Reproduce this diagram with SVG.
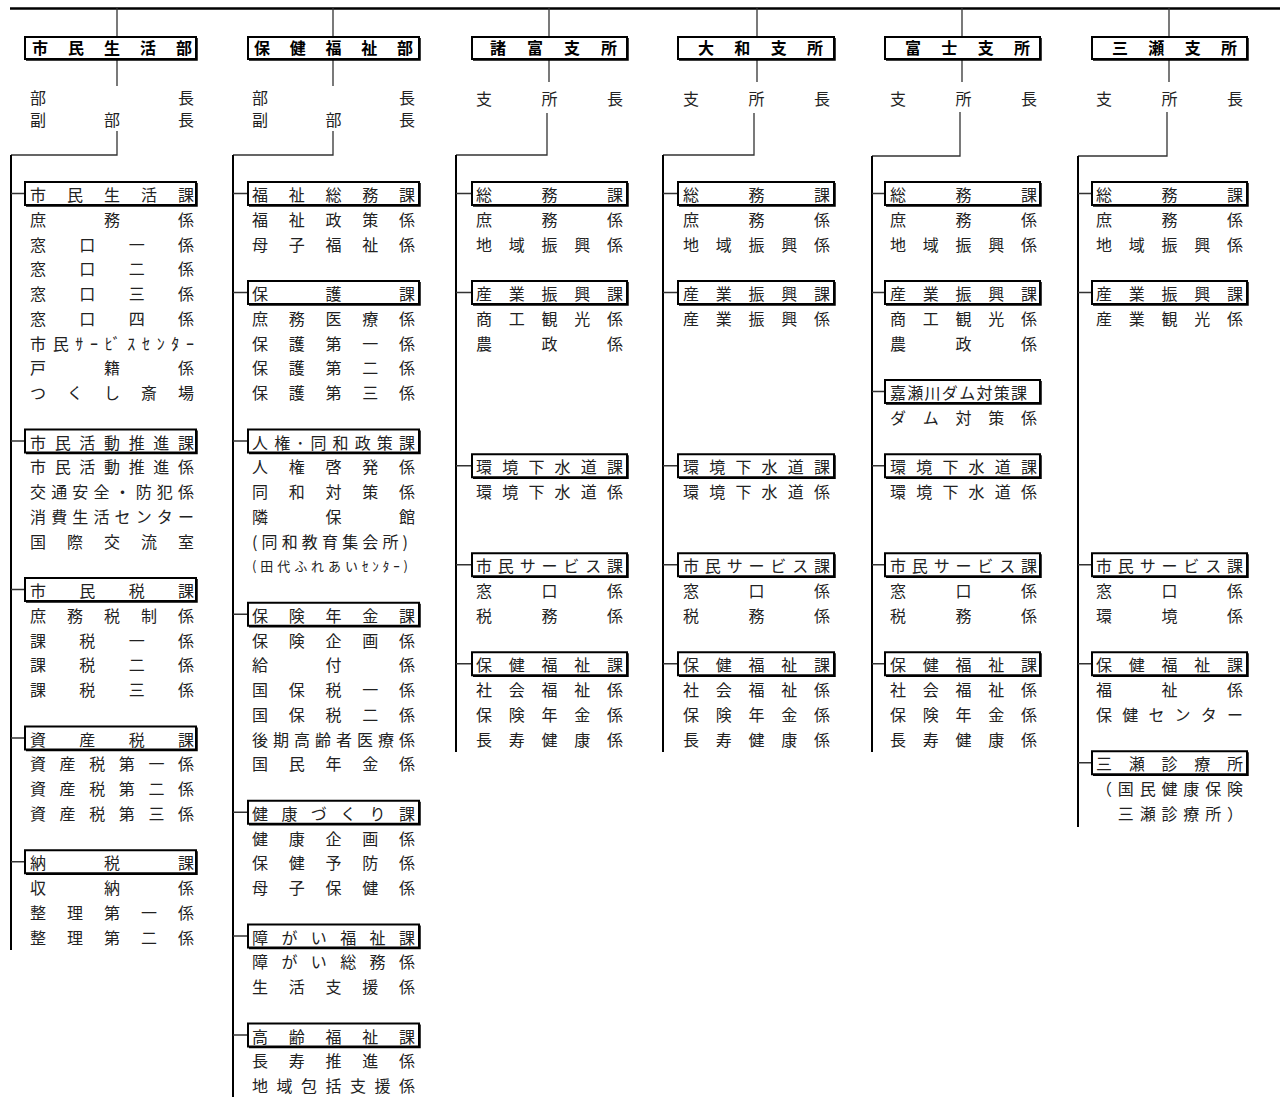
<svg xmlns="http://www.w3.org/2000/svg" width="1280" height="1097" viewBox="0 0 1280 1097">
<style>
text{font-family:"Noto Sans CJK JP","Noto Sans CJK SC",sans-serif;font-size:16px;fill:#222}
.d{font-weight:bold;fill:#000}
.s{font-size:13px}
.bx{fill:#fff;stroke:#000;stroke-width:2}
.sh{fill:none;stroke:#000;stroke-width:1.5}
.tr{fill:none;stroke:#000;stroke-width:2}
.th{fill:none;stroke:#333;stroke-width:1.3}
.top{fill:none;stroke:#000;stroke-width:2.5}
</style>
<rect width="1280" height="1097" fill="#fff"/>
<g id="connectors">
<line class="top" x1="10" y1="8.5" x2="1280" y2="8.5"/>
<path class="th" d="M117 8V37M333 8V37M549 8V37M757 8V37M962 8V37M1169 8V37"/>
<path class="th" d="M117 60V86M333 60V86M549 60V82M757 60V82M962 60V82M1169 60V82"/>
<path class="th" d="M117 131V155H11M333 131V155H233M547 113V155H456M754 113V155H663M960 112V156H872M1167 112V156H1078"/>
<path class="tr" d="M11 155V950M233 155V1097M456 155V752M663 155V752M872 156V752M1078 156V827"/>
<path class="th" d="M11 193.5H25M11 441H25M11 589.5H25M11 738H25M11 861.75H25"/>
<path class="th" d="M233 193.5H248M233 292.5H248M233 441H248M233 614.25H248M233 812.25H248M233 936H248M233 1035H248"/>
<path class="th" d="M456 193.5H472M456 292.5H472M456 465.75H472M456 564.75H472M456 663.75H472"/>
<path class="th" d="M663 193.5H678M663 292.5H678M663 465.75H678M663 564.75H678M663 663.75H678"/>
<path class="th" d="M872 193.5H885M872 292.5H885M872 391.5H885M872 465.75H885M872 564.75H885M872 663.75H885"/>
<path class="th" d="M1078 193.5H1092M1078 292.5H1092M1078 564.75H1092M1078 663.75H1092M1078 762.75H1092"/>
</g>

<g id="dept-shimin">
<rect class="bx" x="25" y="37" width="171" height="22"/><path class="sh" d="M197 38V60H26"/>
<text class="d" x="32" y="54" textLength="160" lengthAdjust="spacing">市民生活部</text>
<text x="30" y="104" textLength="164" lengthAdjust="spacing">部長</text>
<text x="30" y="126" textLength="164" lengthAdjust="spacing">副部長</text>
</g>
<g id="dept-hoken">
<rect class="bx" x="248" y="37" width="171" height="22"/><path class="sh" d="M420 38V60H249"/>
<text class="d" x="254" y="54" textLength="159" lengthAdjust="spacing">保健福祉部</text>
<text x="252" y="104" textLength="163" lengthAdjust="spacing">部長</text>
<text x="252" y="126" textLength="163" lengthAdjust="spacing">副部長</text>
</g>
<g id="dept-morodomi">
<rect class="bx" x="472" y="37" width="155" height="22"/><path class="sh" d="M628 38V60H473"/>
<text class="d" x="490" y="54" textLength="127" lengthAdjust="spacing">諸富支所</text>
<text x="476" y="105" textLength="147" lengthAdjust="spacing">支所長</text>
</g>
<g id="dept-yamato">
<rect class="bx" x="678" y="37" width="156" height="22"/><path class="sh" d="M835 38V60H679"/>
<text class="d" x="698" y="54" textLength="125" lengthAdjust="spacing">大和支所</text>
<text x="683" y="105" textLength="147" lengthAdjust="spacing">支所長</text>
</g>
<g id="dept-fuji">
<rect class="bx" x="885" y="37" width="155" height="22"/><path class="sh" d="M1041 38V60H886"/>
<text class="d" x="905" y="54" textLength="125" lengthAdjust="spacing">富士支所</text>
<text x="890" y="105" textLength="147" lengthAdjust="spacing">支所長</text>
</g>
<g id="dept-mitsuse">
<rect class="bx" x="1092" y="37" width="155" height="22"/><path class="sh" d="M1248 38V60H1093"/>
<text class="d" x="1112" y="54" textLength="125" lengthAdjust="spacing">三瀬支所</text>
<text x="1096" y="105" textLength="147" lengthAdjust="spacing">支所長</text>
</g>

<!-- Column 1 -->
<g id="c1-shiminseikatsu">
<rect class="bx" x="25" y="182" width="171" height="23"/><path class="sh" d="M197 183V206H26"/>
<text x="30" y="201" textLength="164" lengthAdjust="spacing">市民生活課</text>
<text x="30" y="225.75" textLength="164" lengthAdjust="spacing">庶務係</text>
<text x="30" y="250.5" textLength="164" lengthAdjust="spacing">窓口一係</text>
<text x="30" y="275.25" textLength="164" lengthAdjust="spacing">窓口二係</text>
<text x="30" y="300" textLength="164" lengthAdjust="spacing">窓口三係</text>
<text x="30" y="324.75" textLength="164" lengthAdjust="spacing">窓口四係</text>
<text x="30" y="349.5" textLength="164" lengthAdjust="spacing">市民ｻｰﾋﾞｽｾﾝﾀｰ</text>
<text x="30" y="374.25" textLength="164" lengthAdjust="spacing">戸籍係</text>
<text x="30" y="399" textLength="164" lengthAdjust="spacing">つくし斎場</text>
</g>
<g id="c1-katsudo">
<rect class="bx" x="25" y="429.5" width="171" height="23"/><path class="sh" d="M197 430.5V453.5H26"/>
<text x="30" y="448.5" textLength="164" lengthAdjust="spacing">市民活動推進課</text>
<text x="30" y="473.25" textLength="164" lengthAdjust="spacing">市民活動推進係</text>
<text x="30" y="498" textLength="164" lengthAdjust="spacing">交通安全・防犯係</text>
<text x="30" y="522.75" textLength="164" lengthAdjust="spacing">消費生活センター</text>
<text x="30" y="547.5" textLength="164" lengthAdjust="spacing">国際交流室</text>
</g>
<g id="c1-shiminzei">
<rect class="bx" x="25" y="578" width="171" height="23"/><path class="sh" d="M197 579V602H26"/>
<text x="30" y="597" textLength="164" lengthAdjust="spacing">市民税課</text>
<text x="30" y="621.75" textLength="164" lengthAdjust="spacing">庶務税制係</text>
<text x="30" y="646.5" textLength="164" lengthAdjust="spacing">課税一係</text>
<text x="30" y="671.25" textLength="164" lengthAdjust="spacing">課税二係</text>
<text x="30" y="696" textLength="164" lengthAdjust="spacing">課税三係</text>
</g>
<g id="c1-shisanzei">
<rect class="bx" x="25" y="726.5" width="171" height="23"/><path class="sh" d="M197 727.5V750.5H26"/>
<text x="30" y="745.5" textLength="164" lengthAdjust="spacing">資産税課</text>
<text x="30" y="770.25" textLength="164" lengthAdjust="spacing">資産税第一係</text>
<text x="30" y="795" textLength="164" lengthAdjust="spacing">資産税第二係</text>
<text x="30" y="819.75" textLength="164" lengthAdjust="spacing">資産税第三係</text>
</g>
<g id="c1-nozei">
<rect class="bx" x="25" y="850.25" width="171" height="23"/><path class="sh" d="M197 851.25V874.25H26"/>
<text x="30" y="869.25" textLength="164" lengthAdjust="spacing">納税課</text>
<text x="30" y="894" textLength="164" lengthAdjust="spacing">収納係</text>
<text x="30" y="918.75" textLength="164" lengthAdjust="spacing">整理第一係</text>
<text x="30" y="943.5" textLength="164" lengthAdjust="spacing">整理第二係</text>
</g>

<!-- Column 2 -->
<g id="c2-fukushisomu">
<rect class="bx" x="248" y="182" width="171" height="23"/><path class="sh" d="M420 183V206H249"/>
<text x="252" y="201" textLength="163" lengthAdjust="spacing">福祉総務課</text>
<text x="252" y="225.75" textLength="163" lengthAdjust="spacing">福祉政策係</text>
<text x="252" y="250.5" textLength="163" lengthAdjust="spacing">母子福祉係</text>
</g>
<g id="c2-hogo">
<rect class="bx" x="248" y="281" width="171" height="23"/><path class="sh" d="M420 282V305H249"/>
<text x="252" y="300" textLength="163" lengthAdjust="spacing">保護課</text>
<text x="252" y="324.75" textLength="163" lengthAdjust="spacing">庶務医療係</text>
<text x="252" y="349.5" textLength="163" lengthAdjust="spacing">保護第一係</text>
<text x="252" y="374.25" textLength="163" lengthAdjust="spacing">保護第二係</text>
<text x="252" y="399" textLength="163" lengthAdjust="spacing">保護第三係</text>
</g>
<g id="c2-jinken">
<rect class="bx" x="248" y="429.5" width="171" height="23"/><path class="sh" d="M420 430.5V453.5H249"/>
<text x="252" y="448.5" textLength="163" lengthAdjust="spacing">人権･同和政策課</text>
<text x="252" y="473.25" textLength="163" lengthAdjust="spacing">人権啓発係</text>
<text x="252" y="498" textLength="163" lengthAdjust="spacing">同和対策係</text>
<text x="252" y="522.75" textLength="163" lengthAdjust="spacing">隣保館</text>
<text x="252" y="547.5" textLength="156" lengthAdjust="spacing">(同和教育集会所)</text>
<text class="s" x="252" y="571" textLength="156" lengthAdjust="spacing">(田代ふれあいｾﾝﾀｰ)</text>
</g>
<g id="c2-hokennenkin">
<rect class="bx" x="248" y="602.75" width="171" height="23"/><path class="sh" d="M420 603.75V626.75H249"/>
<text x="252" y="621.75" textLength="163" lengthAdjust="spacing">保険年金課</text>
<text x="252" y="646.5" textLength="163" lengthAdjust="spacing">保険企画係</text>
<text x="252" y="671.25" textLength="163" lengthAdjust="spacing">給付係</text>
<text x="252" y="696" textLength="163" lengthAdjust="spacing">国保税一係</text>
<text x="252" y="720.75" textLength="163" lengthAdjust="spacing">国保税二係</text>
<text x="252" y="745.5" textLength="163" lengthAdjust="spacing">後期高齢者医療係</text>
<text x="252" y="770.25" textLength="163" lengthAdjust="spacing">国民年金係</text>
</g>
<g id="c2-kenko">
<rect class="bx" x="248" y="800.75" width="171" height="23"/><path class="sh" d="M420 801.75V824.75H249"/>
<text x="252" y="819.75" textLength="163" lengthAdjust="spacing">健康づくり課</text>
<text x="252" y="844.5" textLength="163" lengthAdjust="spacing">健康企画係</text>
<text x="252" y="869.25" textLength="163" lengthAdjust="spacing">保健予防係</text>
<text x="252" y="894" textLength="163" lengthAdjust="spacing">母子保健係</text>
</g>
<g id="c2-shogai">
<rect class="bx" x="248" y="924.5" width="171" height="23"/><path class="sh" d="M420 925.5V948.5H249"/>
<text x="252" y="943.5" textLength="163" lengthAdjust="spacing">障がい福祉課</text>
<text x="252" y="968.25" textLength="163" lengthAdjust="spacing">障がい総務係</text>
<text x="252" y="993" textLength="163" lengthAdjust="spacing">生活支援係</text>
</g>
<g id="c2-korei">
<rect class="bx" x="248" y="1023.5" width="171" height="23"/><path class="sh" d="M420 1024.5V1047.5H249"/>
<text x="252" y="1042.5" textLength="163" lengthAdjust="spacing">高齢福祉課</text>
<text x="252" y="1067.25" textLength="163" lengthAdjust="spacing">長寿推進係</text>
<text x="252" y="1092" textLength="163" lengthAdjust="spacing">地域包括支援係</text>
</g>

<!-- Column 3 -->
<g id="c3-somu">
<rect class="bx" x="472" y="182" width="155" height="23"/><path class="sh" d="M628 183V206H473"/>
<text x="476" y="201" textLength="147" lengthAdjust="spacing">総務課</text>
<text x="476" y="225.75" textLength="147" lengthAdjust="spacing">庶務係</text>
<text x="476" y="250.5" textLength="147" lengthAdjust="spacing">地域振興係</text>
</g>
<g id="c3-sangyo">
<rect class="bx" x="472" y="281" width="155" height="23"/><path class="sh" d="M628 282V305H473"/>
<text x="476" y="300" textLength="147" lengthAdjust="spacing">産業振興課</text>
<text x="476" y="324.75" textLength="147" lengthAdjust="spacing">商工観光係</text>
<text x="476" y="349.5" textLength="147" lengthAdjust="spacing">農政係</text>
</g>
<g id="c3-kankyo">
<rect class="bx" x="472" y="454.25" width="155" height="23"/><path class="sh" d="M628 455.25V478.25H473"/>
<text x="476" y="473.25" textLength="147" lengthAdjust="spacing">環境下水道課</text>
<text x="476" y="498" textLength="147" lengthAdjust="spacing">環境下水道係</text>
</g>
<g id="c3-service">
<rect class="bx" x="472" y="553.25" width="155" height="23"/><path class="sh" d="M628 554.25V577.25H473"/>
<text x="476" y="572.25" textLength="147" lengthAdjust="spacing">市民サービス課</text>
<text x="476" y="597" textLength="147" lengthAdjust="spacing">窓口係</text>
<text x="476" y="621.75" textLength="147" lengthAdjust="spacing">税務係</text>
</g>
<g id="c3-hoken">
<rect class="bx" x="472" y="652.25" width="155" height="23"/><path class="sh" d="M628 653.25V676.25H473"/>
<text x="476" y="671.25" textLength="147" lengthAdjust="spacing">保健福祉課</text>
<text x="476" y="696" textLength="147" lengthAdjust="spacing">社会福祉係</text>
<text x="476" y="720.75" textLength="147" lengthAdjust="spacing">保険年金係</text>
<text x="476" y="745.5" textLength="147" lengthAdjust="spacing">長寿健康係</text>
</g>

<!-- Column 4 -->
<g id="c4-somu">
<rect class="bx" x="678" y="182" width="156" height="23"/><path class="sh" d="M835 183V206H679"/>
<text x="683" y="201" textLength="147" lengthAdjust="spacing">総務課</text>
<text x="683" y="225.75" textLength="147" lengthAdjust="spacing">庶務係</text>
<text x="683" y="250.5" textLength="147" lengthAdjust="spacing">地域振興係</text>
</g>
<g id="c4-sangyo">
<rect class="bx" x="678" y="281" width="156" height="23"/><path class="sh" d="M835 282V305H679"/>
<text x="683" y="300" textLength="147" lengthAdjust="spacing">産業振興課</text>
<text x="683" y="324.75" textLength="147" lengthAdjust="spacing">産業振興係</text>
</g>
<g id="c4-kankyo">
<rect class="bx" x="678" y="454.25" width="156" height="23"/><path class="sh" d="M835 455.25V478.25H679"/>
<text x="683" y="473.25" textLength="147" lengthAdjust="spacing">環境下水道課</text>
<text x="683" y="498" textLength="147" lengthAdjust="spacing">環境下水道係</text>
</g>
<g id="c4-service">
<rect class="bx" x="678" y="553.25" width="156" height="23"/><path class="sh" d="M835 554.25V577.25H679"/>
<text x="683" y="572.25" textLength="147" lengthAdjust="spacing">市民サービス課</text>
<text x="683" y="597" textLength="147" lengthAdjust="spacing">窓口係</text>
<text x="683" y="621.75" textLength="147" lengthAdjust="spacing">税務係</text>
</g>
<g id="c4-hoken">
<rect class="bx" x="678" y="652.25" width="156" height="23"/><path class="sh" d="M835 653.25V676.25H679"/>
<text x="683" y="671.25" textLength="147" lengthAdjust="spacing">保健福祉課</text>
<text x="683" y="696" textLength="147" lengthAdjust="spacing">社会福祉係</text>
<text x="683" y="720.75" textLength="147" lengthAdjust="spacing">保険年金係</text>
<text x="683" y="745.5" textLength="147" lengthAdjust="spacing">長寿健康係</text>
</g>

<!-- Column 5 -->
<g id="c5-somu">
<rect class="bx" x="885" y="182" width="155" height="23"/><path class="sh" d="M1041 183V206H886"/>
<text x="890" y="201" textLength="147" lengthAdjust="spacing">総務課</text>
<text x="890" y="225.75" textLength="147" lengthAdjust="spacing">庶務係</text>
<text x="890" y="250.5" textLength="147" lengthAdjust="spacing">地域振興係</text>
</g>
<g id="c5-sangyo">
<rect class="bx" x="885" y="281" width="155" height="23"/><path class="sh" d="M1041 282V305H886"/>
<text x="890" y="300" textLength="147" lengthAdjust="spacing">産業振興課</text>
<text x="890" y="324.75" textLength="147" lengthAdjust="spacing">商工観光係</text>
<text x="890" y="349.5" textLength="147" lengthAdjust="spacing">農政係</text>
</g>
<g id="c5-dam">
<rect class="bx" x="885" y="380" width="155" height="23"/><path class="sh" d="M1041 381V404H886"/>
<text x="890" y="399" textLength="137" lengthAdjust="spacing">嘉瀬川ダム対策課</text>
<text x="890" y="423.75" textLength="147" lengthAdjust="spacing">ダム対策係</text>
</g>
<g id="c5-kankyo">
<rect class="bx" x="885" y="454.25" width="155" height="23"/><path class="sh" d="M1041 455.25V478.25H886"/>
<text x="890" y="473.25" textLength="147" lengthAdjust="spacing">環境下水道課</text>
<text x="890" y="498" textLength="147" lengthAdjust="spacing">環境下水道係</text>
</g>
<g id="c5-service">
<rect class="bx" x="885" y="553.25" width="155" height="23"/><path class="sh" d="M1041 554.25V577.25H886"/>
<text x="890" y="572.25" textLength="147" lengthAdjust="spacing">市民サービス課</text>
<text x="890" y="597" textLength="147" lengthAdjust="spacing">窓口係</text>
<text x="890" y="621.75" textLength="147" lengthAdjust="spacing">税務係</text>
</g>
<g id="c5-hoken">
<rect class="bx" x="885" y="652.25" width="155" height="23"/><path class="sh" d="M1041 653.25V676.25H886"/>
<text x="890" y="671.25" textLength="147" lengthAdjust="spacing">保健福祉課</text>
<text x="890" y="696" textLength="147" lengthAdjust="spacing">社会福祉係</text>
<text x="890" y="720.75" textLength="147" lengthAdjust="spacing">保険年金係</text>
<text x="890" y="745.5" textLength="147" lengthAdjust="spacing">長寿健康係</text>
</g>

<!-- Column 6 -->
<g id="c6-somu">
<rect class="bx" x="1092" y="182" width="155" height="23"/><path class="sh" d="M1248 183V206H1093"/>
<text x="1096" y="201" textLength="147" lengthAdjust="spacing">総務課</text>
<text x="1096" y="225.75" textLength="147" lengthAdjust="spacing">庶務係</text>
<text x="1096" y="250.5" textLength="147" lengthAdjust="spacing">地域振興係</text>
</g>
<g id="c6-sangyo">
<rect class="bx" x="1092" y="281" width="155" height="23"/><path class="sh" d="M1248 282V305H1093"/>
<text x="1096" y="300" textLength="147" lengthAdjust="spacing">産業振興課</text>
<text x="1096" y="324.75" textLength="147" lengthAdjust="spacing">産業観光係</text>
</g>
<g id="c6-service">
<rect class="bx" x="1092" y="553.25" width="155" height="23"/><path class="sh" d="M1248 554.25V577.25H1093"/>
<text x="1096" y="572.25" textLength="147" lengthAdjust="spacing">市民サービス課</text>
<text x="1096" y="597" textLength="147" lengthAdjust="spacing">窓口係</text>
<text x="1096" y="621.75" textLength="147" lengthAdjust="spacing">環境係</text>
</g>
<g id="c6-hoken">
<rect class="bx" x="1092" y="652.25" width="155" height="23"/><path class="sh" d="M1248 653.25V676.25H1093"/>
<text x="1096" y="671.25" textLength="147" lengthAdjust="spacing">保健福祉課</text>
<text x="1096" y="696" textLength="147" lengthAdjust="spacing">福祉係</text>
<text x="1096" y="720.75" textLength="147" lengthAdjust="spacing">保健センター</text>
</g>
<g id="c6-shinryojo">
<rect class="bx" x="1092" y="751.25" width="155" height="23"/><path class="sh" d="M1248 752.25V775.25H1093"/>
<text x="1096" y="770.25" textLength="147" lengthAdjust="spacing">三瀬診療所</text>
<text x="1096" y="795" textLength="147" lengthAdjust="spacing">（国民健康保険</text>
<text x="1096" y="819.75" textLength="147" lengthAdjust="spacing">　三瀬診療所）</text>
</g>
</svg>
